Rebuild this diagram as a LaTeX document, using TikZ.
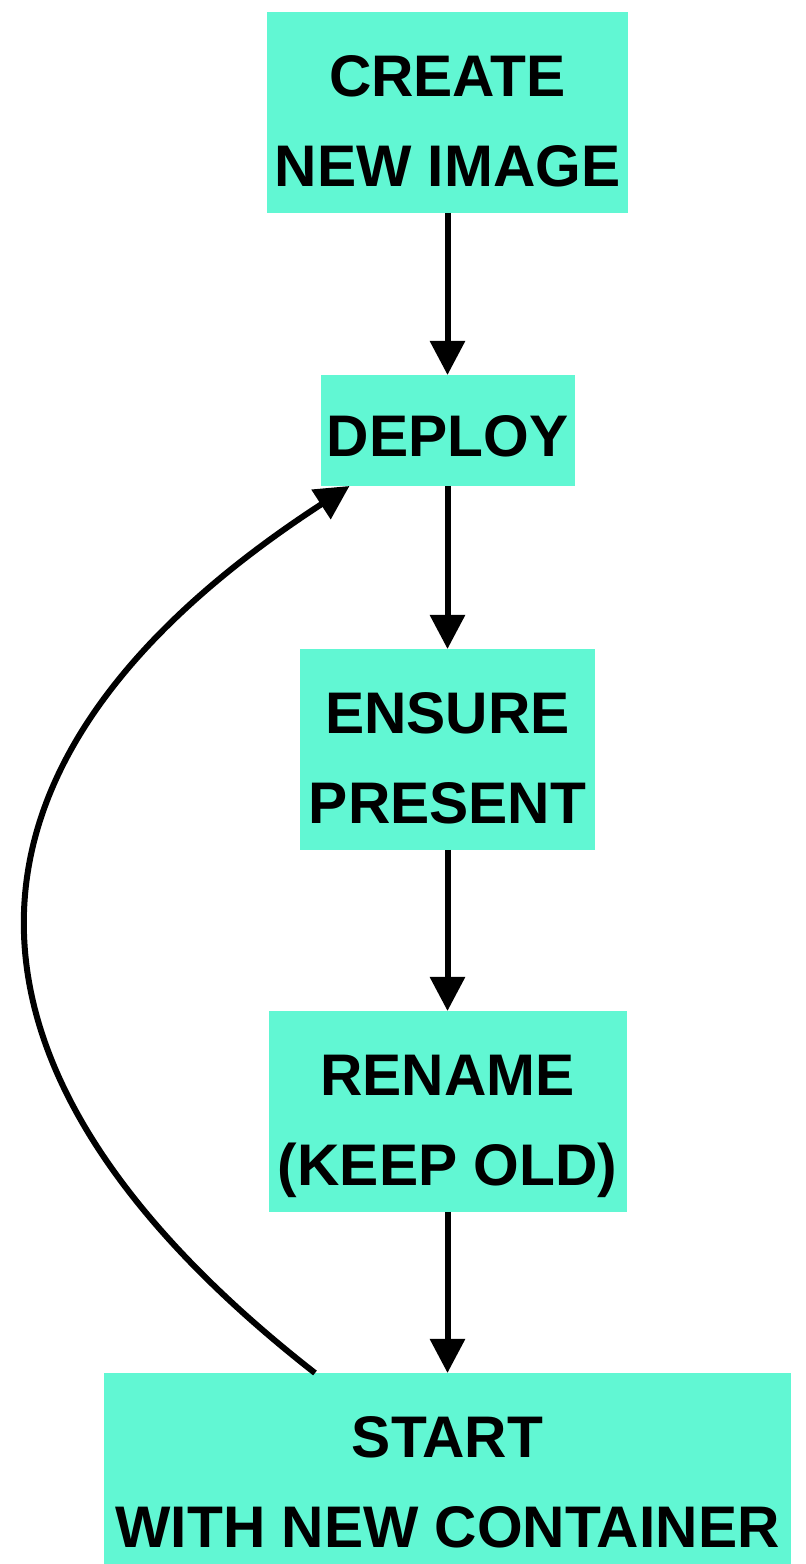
\documentclass[tikz,border=0pt]{standalone}
\usepackage{fontspec}
\setmainfont{Liberation Sans}
\usetikzlibrary{arrows.meta}

\definecolor{mint}{HTML}{61F7D3}

\begin{document}
\begin{tikzpicture}[
    stagebox/.style={fill=mint, inner sep=0pt, outer sep=0pt, align=center,
        text depth=0pt, text height=42pt,
        font=\fontsize{16.7}{25.6}\selectfont\bfseries},
    oneline/.style={text height=14.8pt},
    flow/.style={line width=0.06cm, -{Triangle[length=0.34cm, width=0.34cm]}}
]
    \useasboundingbox (0,0) rectangle (8.05,15.64);

    % Stages of the rollout
    \node[stagebox, minimum width=3.61cm, minimum height=2.01cm] (create) at (4.475,14.515) {CREATE\\NEW IMAGE};
    \node[stagebox, oneline, minimum width=2.54cm, minimum height=1.11cm] (deploy) at (4.475,11.335) {DEPLOY};
    \node[stagebox, minimum width=2.95cm, minimum height=2.01cm] (ensure) at (4.475,8.145) {ENSURE\\PRESENT};
    \node[stagebox, minimum width=3.58cm, minimum height=2.01cm] (rename) at (4.475,4.525) {RENAME\\(KEEP OLD)};
    \node[stagebox, minimum width=6.87cm, minimum height=2.01cm] (start) at (4.475,0.905) {START\\WITH NEW CONTAINER};

    % Straight chain
    \draw[flow] (create) -- (deploy);
    \draw[flow] (deploy) -- (ensure);
    \draw[flow] (ensure) -- (rename);
    \draw[flow] (rename) -- (start);

    % Loop back to deploy
    \draw[flow] ([xshift=2.11cm]start.north west)
        .. controls +(142:5.0) and +(213:5.0) .. ([xshift=0.29cm]deploy.south west);
\end{tikzpicture}
\end{document}
